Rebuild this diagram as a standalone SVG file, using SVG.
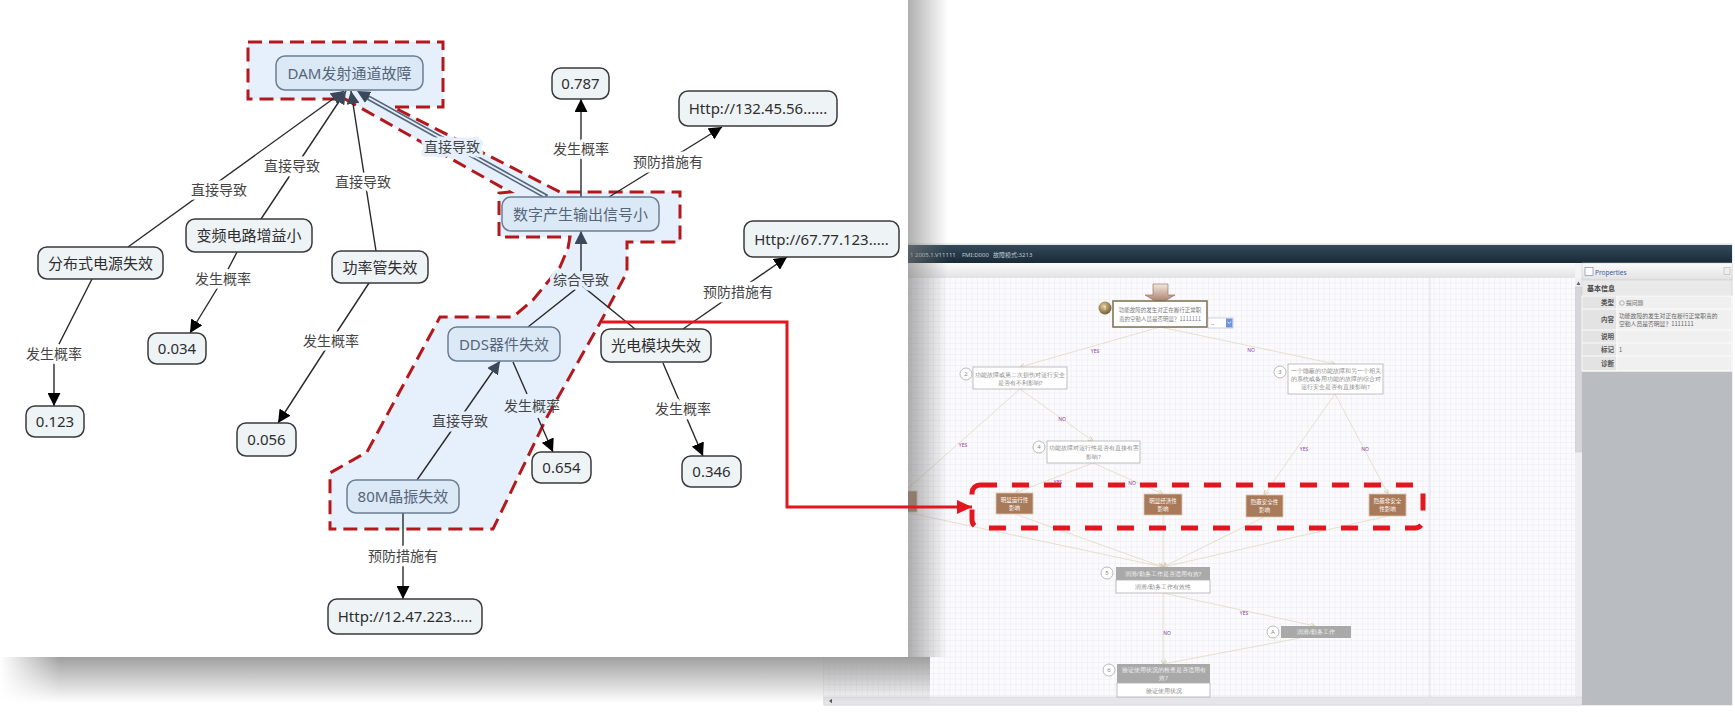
<svg xmlns="http://www.w3.org/2000/svg" width="1735" height="717" viewBox="0 0 1735 717">
<defs>
<style>
.nd rect{fill:#eef3f6;stroke:#3a3a3a;stroke-width:1.5}
.nd text{font-family:"Noto Sans","Noto Sans CJK SC",sans-serif;font-size:15px;fill:#2e2e2e;text-anchor:middle}
.hl rect{fill:#dbe8f5;stroke:#6b7e92}
.hl text{fill:#56667a}
.cn{fill:none;stroke:#2a2a2a;stroke-width:1.4}
.lb{font-family:"Noto Sans CJK SC",sans-serif;font-size:14px;fill:#454545;text-anchor:middle;paint-order:stroke;stroke:#fff;stroke-width:7;stroke-linejoin:round}
.lb.b{stroke:#e6f0fc}
.lb.n{stroke:none}
.sc{font-family:"Noto Sans CJK SC",sans-serif;font-size:5.5px;fill:#7a7a7a;text-anchor:middle}
.yn{font-family:"Noto Sans",sans-serif;font-size:5px;fill:#8b3f9c;text-anchor:middle}
.fl{fill:none;stroke:#e2d8c2;stroke-width:0.8}
.bx rect{fill:#a97a5a;stroke:#dcc6ae;stroke-width:0.8}
.bx text{fill:#fff}
.ci circle{fill:#fff;stroke:#a8a8a8;stroke-width:0.8}
.ci text{font-family:"Noto Sans",sans-serif;font-size:6px;fill:#888;text-anchor:middle}
.pl{font-family:"Noto Sans CJK SC",sans-serif;font-size:6.5px;font-weight:bold;fill:#555;text-anchor:end}
.pv{font-family:"Noto Sans CJK SC",sans-serif;font-size:5.8px;fill:#666}
</style>
<marker id="ab" viewBox="0 0 13 13" refX="13" refY="6.5" markerWidth="13" markerHeight="13" markerUnits="userSpaceOnUse" orient="auto"><path d="M0,0 L13,6.5 L0,13 Z" fill="#000"/></marker>
<marker id="as" viewBox="0 0 13 13" refX="13" refY="6.5" markerWidth="13" markerHeight="13" markerUnits="userSpaceOnUse" orient="auto"><path d="M0,0 L13,6.5 L0,13 Z" fill="#3b4859"/></marker>
<marker id="ar" viewBox="0 0 15 14" refX="15" refY="7" markerWidth="15" markerHeight="14" markerUnits="userSpaceOnUse" orient="auto"><path d="M0,0 L15,7 L0,14 Z" fill="#e3161f"/></marker>
<marker id="at" viewBox="0 0 6 6" refX="6" refY="3" markerWidth="5" markerHeight="5" markerUnits="userSpaceOnUse" orient="auto"><path d="M0,0 L6,3 L0,6" fill="none" stroke="#d6c9ac" stroke-width="1"/></marker>
<linearGradient id="hdr" x1="0" y1="0" x2="0" y2="1"><stop offset="0" stop-color="#33495a"/><stop offset="1" stop-color="#1a2a36"/></linearGradient>
<linearGradient id="tb" x1="0" y1="0" x2="0" y2="1"><stop offset="0" stop-color="#fbfbfb"/><stop offset="1" stop-color="#e2e2e4"/></linearGradient>
<linearGradient id="brn" x1="0" y1="0" x2="0" y2="1"><stop offset="0" stop-color="#f3e8de"/><stop offset="1" stop-color="#a0705a"/></linearGradient>
<radialGradient id="gold" cx="0.4" cy="0.35" r="0.7"><stop offset="0" stop-color="#e2cc95"/><stop offset="1" stop-color="#6e5630"/></radialGradient>
<linearGradient id="shR" x1="0" y1="0" x2="1" y2="0"><stop offset="0" stop-color="#7a7a7a" stop-opacity="0.6"/><stop offset="1" stop-color="#7a7a7a" stop-opacity="0"/></linearGradient>
<linearGradient id="shB" x1="0" y1="0" x2="0" y2="1"><stop offset="0" stop-color="#959595" stop-opacity="0.9"/><stop offset="1" stop-color="#959595" stop-opacity="0"/></linearGradient>
<linearGradient id="shL" x1="0" y1="0" x2="1" y2="0"><stop offset="0" stop-color="#fff" stop-opacity="1"/><stop offset="1" stop-color="#fff" stop-opacity="0"/></linearGradient>
<pattern id="grid" width="5.5" height="5.5" patternUnits="userSpaceOnUse" x="824" y="278"><rect width="5.5" height="5.5" fill="#fbfbfd"/><path d="M5.5,0 V5.5 M0,5.5 H5.5" stroke="#e2e2eb" stroke-width="0.6"/></pattern>
</defs>
<rect width="1735" height="717" fill="#fff"/>

<g id="screenshot">
<rect x="824" y="244" width="908" height="461" fill="#f4f4f6" stroke="#c8c8c8" stroke-width="0.6"/>
<rect x="824" y="245" width="908" height="18" fill="url(#hdr)"/>
<g font-family="Noto Sans, Noto Sans CJK SC, sans-serif" font-size="6" fill="#bfcad4">
<text x="910" y="256.5">1 2005.1.V11111</text>
<text x="962" y="256.5">FMI:D000</text>
<text x="993" y="256.5">故障模式:3213</text>
</g>
<rect x="824" y="263" width="751" height="15" fill="url(#tb)"/>
<rect x="824" y="278" width="751" height="419" fill="url(#grid)"/>
<line x1="1430" y1="278" x2="1430" y2="697" stroke="#d9d9e3" stroke-width="0.8"/>
<rect x="1575" y="278" width="7" height="419" fill="#eeeef2"/>
<rect x="1575.5" y="287" width="6" height="165" fill="#d6d6dc" stroke="#c4c4cc" stroke-width="0.5"/>
<path d="M1576.5,285 L1578.5,281.5 L1580.5,285 Z" fill="#666"/>
<rect x="824" y="697" width="758" height="8" fill="#e6e6ea" stroke="#d0d0d6" stroke-width="0.5"/>
<path d="M832,698.8 L829,701 L832,703.2 Z" fill="#555"/>

<g id="props">
<rect x="1582" y="263" width="150" height="442" fill="#b9bdc1"/>
<rect x="1582" y="263" width="150" height="17" fill="url(#tb)" stroke="#c8c8c8" stroke-width="0.5"/>
<rect x="1585" y="267.5" width="8" height="8" fill="#fff" stroke="#7b8fb0" stroke-width="0.7"/>
<text x="1595" y="275" font-family="Noto Sans, sans-serif" font-size="6.5" fill="#3a5a9a">Properties</text>
<rect x="1724" y="267.5" width="6" height="7" fill="#eee" stroke="#aaa" stroke-width="0.5"/>
<rect x="1582" y="280" width="150" height="16" fill="#e9e9e9" stroke="#cfcfcf" stroke-width="0.5"/>
<text x="1587" y="291" font-family="Noto Sans CJK SC, sans-serif" font-size="7" font-weight="bold" fill="#444">基本信息</text>
<g stroke="#fff" stroke-width="0.8">
<rect x="1582" y="296" width="35" height="75" fill="#e3e3e3"/>
<rect x="1617" y="296" width="115" height="75" fill="#f0f0f0"/>
<path d="M1582,309 H1732 M1582,330 H1732 M1582,343 H1732 M1582,356 H1732 M1582,371 H1732" fill="none"/>
</g>
<text class="pl" x="1614" y="305">类型</text>
<text class="pl" x="1614" y="322">内容</text>
<text class="pl" x="1614" y="339">说明</text>
<text class="pl" x="1614" y="352">标记</text>
<text class="pl" x="1614" y="366">诊断</text>
<circle cx="1622" cy="303" r="2.3" fill="none" stroke="#8a8a8a" stroke-width="0.6"/>
<text class="pv" x="1626" y="305">提问题</text>
<text class="pv" x="1619" y="318">功能故障的发生对正在履行正常职责的</text>
<text class="pv" x="1619" y="326">空勤人员是否明显？1111111</text>
<text class="pv" x="1619" y="352">1</text>
</g>

<g id="flow-lines">
<path class="fl" d="M1160,327 L1020,367" marker-end="url(#at)"/>
<path class="fl" d="M1160,327 L1335,364" marker-end="url(#at)"/>
<path class="fl" d="M1020,389 L1093,441" marker-end="url(#at)"/>
<path class="fl" d="M1020,389 L905,491" marker-end="url(#at)"/>
<path class="fl" d="M1335,394 L1264,495" marker-end="url(#at)"/>
<path class="fl" d="M1335,394 L1388,494" marker-end="url(#at)"/>
<path class="fl" d="M1093,463 L1015,493" marker-end="url(#at)"/>
<path class="fl" d="M1093,463 L1163,494" marker-end="url(#at)"/>
<path class="fl" d="M1015,514 L1163,567" marker-end="url(#at)"/>
<path class="fl" d="M1163,515 L1163,567" marker-end="url(#at)"/>
<path class="fl" d="M1264,517 L1163,567" marker-end="url(#at)"/>
<path class="fl" d="M1388,516 L1163,567" marker-end="url(#at)"/>
<path class="fl" d="M905,512 L1163,567" marker-end="url(#at)"/>
<path class="fl" d="M1163,593 L1163,664" marker-end="url(#at)"/>
<path class="fl" d="M1163,593 L1315,626" marker-end="url(#at)"/>
<path class="fl" d="M1300,638 L1163,664" marker-end="url(#at)"/>
</g>
<g id="flow-labels">
<text class="yn" x="1095" y="353">YES</text>
<text class="yn" x="1251" y="352">NO</text>
<text class="yn" x="1062" y="421">NO</text>
<text class="yn" x="963" y="447">YES</text>
<text class="yn" x="1304" y="451">YES</text>
<text class="yn" x="1365" y="451">NO</text>
<text class="yn" x="1058" y="484">YES</text>
<text class="yn" x="1132" y="485">NO</text>
<text class="yn" x="1244" y="615">YES</text>
<text class="yn" x="1167" y="635">NO</text>
</g>
<g id="f-arrow"><path d="M1153,284 H1168 V295 H1175 L1160,304 L1145,295 H1153 Z" fill="url(#brn)" stroke="#8b6a55" stroke-width="0.6"/></g>
<g id="f-node1">
<rect x="1113" y="301" width="94" height="26" fill="#fff" stroke="#7d6c4e" stroke-width="1.5"/>
<text class="sc" x="1160" y="312">功能故障的发生对正在履行正常职</text>
<text class="sc" x="1160" y="321">责的空勤人员是否明显？1111111</text>
<circle cx="1105" cy="308" r="6.5" fill="url(#gold)"/>
<text x="1105" y="310.3" font-family="Noto Sans, sans-serif" font-size="6" fill="#fff" text-anchor="middle">1</text>
<rect x="1208" y="318" width="25" height="10" fill="#fff" stroke="#9aa8c0" stroke-width="0.5"/>
<text x="1211" y="325.5" font-family="Noto Sans, sans-serif" font-size="5" fill="#555">--</text>
<rect x="1226" y="318.5" width="6.5" height="9" fill="#7294d8"/>
<path d="M1227.5,321.5 L1229.2,323.5 L1231,321.5" fill="none" stroke="#fff" stroke-width="0.7"/>
</g>
<g id="f-node2" class="ci">
<rect x="973" y="367" width="94" height="22" fill="#fff" stroke="#b0b0b0" stroke-width="0.8"/>
<text class="sc" x="1020" y="376.5">功能故障或第二次损伤对运行安全</text>
<text class="sc" x="1020" y="385">是否有不利影响?</text>
<circle cx="966" cy="374" r="6"/><text x="966" y="376">2</text>
</g>
<g id="f-node3" class="ci">
<rect x="1288" y="364" width="95" height="30" fill="#fff" stroke="#b0b0b0" stroke-width="0.8"/>
<text class="sc" x="1335.5" y="373">一个隐蔽的功能故障和另一个相关</text>
<text class="sc" x="1335.5" y="381">的系统或备用功能的故障的综合对</text>
<text class="sc" x="1335.5" y="389">运行安全是否有直接影响?</text>
<circle cx="1280" cy="372" r="6"/><text x="1280" y="374">3</text>
</g>
<g id="f-node4" class="ci">
<rect x="1047" y="441" width="93" height="22" fill="#fff" stroke="#b0b0b0" stroke-width="0.8"/>
<text class="sc" x="1093.5" y="450">功能故障对运行性是否有直接有害</text>
<text class="sc" x="1093.5" y="459">影响?</text>
<circle cx="1039" cy="447" r="6"/><text x="1039" y="449">4</text>
</g>
<g id="f-boxes" class="bx">
<rect x="880" y="491" width="37" height="21"/>
<rect x="996" y="493" width="37" height="21"/>
<text class="sc" x="1014.5" y="502">明显运行性</text><text class="sc" x="1014.5" y="510">影响</text>
<rect x="1144" y="494" width="38" height="21"/>
<text class="sc" x="1163" y="503">明显经济性</text><text class="sc" x="1163" y="511">影响</text>
<rect x="1246" y="495" width="37" height="22"/>
<text class="sc" x="1264.5" y="504">隐蔽安全性</text><text class="sc" x="1264.5" y="512">影响</text>
<rect x="1369" y="494" width="37" height="22"/>
<text class="sc" x="1387.5" y="503">隐蔽非安全</text><text class="sc" x="1387.5" y="511">性影响</text>
</g>
<g id="f-node5" class="ci">
<rect x="1116" y="567" width="94" height="13" fill="#a9a9a9"/>
<rect x="1116" y="580" width="94" height="13" fill="#fff" stroke="#b0b0b0" stroke-width="0.8"/>
<text class="sc" x="1163" y="575.5" style="fill:#f2f2f2">润滑/勤务工作是否适用有效?</text>
<text class="sc" x="1163" y="588.5">润滑/勤务工作有效性</text>
<circle cx="1107" cy="573" r="6"/><text x="1107" y="575">5</text>
</g>
<g id="f-nodeA" class="ci">
<rect x="1281" y="626" width="70" height="12" fill="#a9a9a9"/>
<text class="sc" x="1316" y="634" style="fill:#f2f2f2">润滑/勤务工作</text>
<circle cx="1273" cy="632" r="6"/><text x="1273" y="634">A</text>
</g>
<g id="f-node6" class="ci">
<rect x="1117" y="664" width="93" height="19" fill="#a9a9a9"/>
<rect x="1117" y="683" width="93" height="14" fill="#fff" stroke="#b0b0b0" stroke-width="0.8"/>
<text class="sc" x="1163.5" y="672" style="fill:#f2f2f2">验证使用状况的检查是否适用有</text>
<text class="sc" x="1163.5" y="680" style="fill:#f2f2f2">效?</text>
<text class="sc" x="1163.5" y="692.5">验证使用状况</text>
<circle cx="1109" cy="670" r="6"/><text x="1109" y="672">6</text>
</g>
</g>

<g id="card">
<rect x="908" y="0" width="40" height="657" fill="url(#shR)"/>
<rect x="0" y="657" width="930" height="46" fill="url(#shB)"/>
<rect x="0" y="657" width="60" height="46" fill="url(#shL)"/>
<rect x="0" y="0" width="908" height="657" fill="#fff"/>
</g>

<path id="highlight" d="M248,42 L443,42 L443,107 L393,107 L560,192 L680,192 L680,242 L627,242 L627,272 L600,323 L547,417 L493,529 L330,529 L330,473 L367,452 L440,317 L513,317 L533,300 L560,267 L568,248 L570,237 L499,237 L499,193 L510,192 L345,99 L248,99 Z" fill="#e6f0fc" stroke="#b3181c" stroke-width="3" stroke-dasharray="14 7"/>

<g id="connectors">
<path class="cn" d="M128,247 L344,91" marker-end="url(#as)"/>
<path class="cn" d="M261,219 L346,91" marker-end="url(#as)"/>
<path class="cn" d="M376,251 L351,91" marker-end="url(#as)"/>
<path d="M547,197 L367,97" fill="none" stroke="#56677c" stroke-width="5"/>
<path d="M545,196 L369,98" fill="none" stroke="#e6f0fc" stroke-width="1.8"/>
<path d="M547,197 L357,91" fill="none" stroke="none" marker-end="url(#as)"/>
<path class="cn" d="M581,197 L581,99" marker-end="url(#ab)"/>
<path class="cn" d="M609,197 L722,127" marker-end="url(#ab)"/>
<path class="cn" d="M528,327 L581,285 L635,329"/>
<path class="cn" d="M581,285 L581,231" marker-end="url(#as)"/>
<path class="cn" d="M683,329 L787,257" marker-end="url(#ab)"/>
<path class="cn" d="M513,362 L527,394"/>
<path class="cn" d="M538,418 L553,452" marker-end="url(#ab)"/>
<path class="cn" d="M663,363 L703,456" marker-end="url(#ab)"/>
<path class="cn" d="M417,480 L500,361" marker-end="url(#as)"/>
<path class="cn" d="M403,513 L403,599" marker-end="url(#ab)"/>
<path class="cn" d="M92,279 L54,354 L54,406" marker-end="url(#ab)"/>
<path class="cn" d="M237,252 L223,279 L190,333" marker-end="url(#ab)"/>
<path class="cn" d="M369,283 L331,341 L278,423" marker-end="url(#ab)"/>
<text class="lb" x="219" y="195">直接导致</text>
<text class="lb" x="292" y="171">直接导致</text>
<text class="lb" x="363" y="187">直接导致</text>
<text class="lb b" x="452" y="152">直接导致</text>
<text class="lb" x="581" y="154">发生概率</text>
<text class="lb" x="668" y="167">预防措施有</text>
<text class="lb b" x="581" y="285">综合导致</text>
<text class="lb" x="738" y="297">预防措施有</text>
<text class="lb" x="223" y="284">发生概率</text>
<text class="lb" x="54" y="359">发生概率</text>
<text class="lb" x="331" y="346">发生概率</text>
<text class="lb b" x="460" y="426">直接导致</text>
<text class="lb n" x="532" y="411">发生概率</text>
<text class="lb" x="683" y="414">发生概率</text>
<text class="lb" x="403" y="561">预防措施有</text>
</g>

<g id="n-dam" class="nd hl"><rect x="276" y="56" width="147" height="34" rx="9"/><text x="349.5" y="78.5">DAM发射通道故障</text></g>
<g id="n-shuzi" class="nd hl"><rect x="502" y="197" width="157" height="34" rx="9"/><text x="580.5" y="219.5">数字产生输出信号小</text></g>
<g id="n-dds" class="nd hl"><rect x="448" y="327" width="112" height="34" rx="9"/><text x="504" y="349.5">DDS器件失效</text></g>
<g id="n-80m" class="nd hl"><rect x="347" y="480" width="112" height="33" rx="9"/><text x="403" y="502">80M晶振失效</text></g>
<g id="n-fenbu" class="nd"><rect x="38" y="247" width="125" height="32" rx="9"/><text x="100.5" y="268.5">分布式电源失效</text></g>
<g id="n-bianpin" class="nd"><rect x="186" y="219" width="126" height="33" rx="9"/><text x="249" y="241">变频电路增益小</text></g>
<g id="n-gonglv" class="nd"><rect x="332" y="251" width="96" height="32" rx="9"/><text x="380" y="272.5">功率管失效</text></g>
<g id="n-guangdian" class="nd"><rect x="601" y="329" width="110" height="33" rx="9"/><text x="656" y="351">光电模块失效</text></g>
<g id="n-0787" class="nd"><rect x="552" y="68" width="57" height="31" rx="9"/><text x="580.5" y="89">0.787</text></g>
<g id="n-http132" class="nd"><rect x="679" y="91" width="158" height="35" rx="9"/><text x="758" y="114">Http://132.45.56......</text></g>
<g id="n-http67" class="nd"><rect x="744" y="221" width="155" height="36" rx="9"/><text x="821.5" y="244.5">Http://67.77.123.....</text></g>
<g id="n-0034" class="nd"><rect x="148" y="333" width="58" height="31" rx="9"/><text x="177" y="354">0.034</text></g>
<g id="n-0123" class="nd"><rect x="26" y="406" width="58" height="31" rx="9"/><text x="55" y="427">0.123</text></g>
<g id="n-0056" class="nd"><rect x="237" y="423" width="59" height="33" rx="9"/><text x="266.5" y="445">0.056</text></g>
<g id="n-0654" class="nd"><rect x="532" y="452" width="59" height="31" rx="9"/><text x="561.5" y="473">0.654</text></g>
<g id="n-0346" class="nd"><rect x="682" y="456" width="59" height="31" rx="9"/><text x="711.5" y="477">0.346</text></g>
<g id="n-http12" class="nd"><rect x="328" y="599" width="154" height="35" rx="9"/><text x="405" y="622">Http://12.47.223.....</text></g>

<g id="callout">
<path d="M602,322 H787 V507 H972" fill="none" stroke="#e3161f" stroke-width="3" marker-end="url(#ar)"/>
<rect x="972" y="485" width="451" height="43" rx="8" fill="none" stroke="#e3161f" stroke-width="5" stroke-dasharray="17 15"/>
</g>
</svg>
